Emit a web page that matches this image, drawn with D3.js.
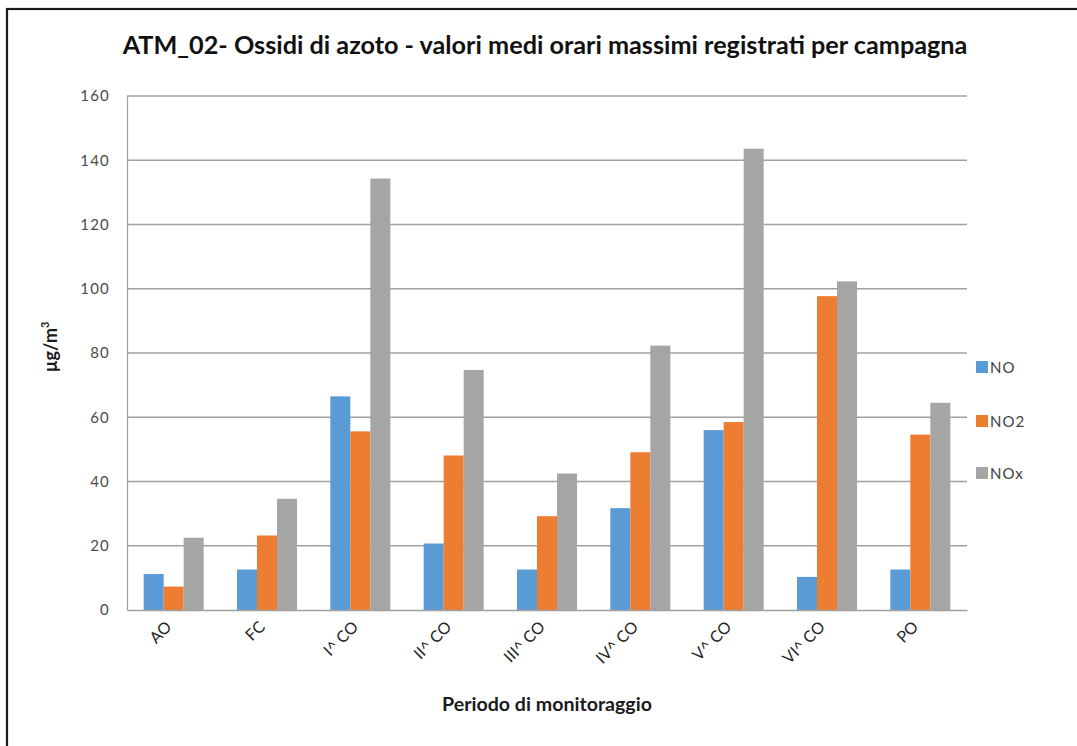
<!DOCTYPE html>
<html><head><meta charset="utf-8">
<script src="https://cdn.jsdelivr.net/npm/d3@7"></script>
<style>
html,body{margin:0;padding:0;background:#fff;}
svg{display:block;}
text{font-family:Lato,"Open Sans",sans-serif;}
</style></head>
<body>
<svg id="chart" width="1077" height="746"></svg>
<script>
const categories = ["AO","FC","I^ CO","II^ CO","III^ CO","IV^ CO","V^ CO","VI^ CO","PO"];
const seriesNames = ["NO","NO2","NOx"];
const valuesNO  = [11.2, 12.6, 66.5, 20.7, 12.6, 31.7, 56.0, 10.3, 12.6];
const valuesNO2 = [7.3, 23.2, 55.6, 48.1, 29.2, 49.1, 58.5, 97.7, 54.6];
const valuesNOx = [22.5, 34.6, 134.3, 74.7, 42.5, 82.3, 143.6, 102.3, 64.5];
const yTicks = [0,20,40,60,80,100,120,140,160];
const colors = ["#5B9BD5","#ED7D31","#A5A5A5"];
const titleText = "ATM_02- Ossidi di azoto - valori medi orari massimi registrati per campagna";
const xTitleText = "Periodo di monitoraggio";

const series = [valuesNO, valuesNO2, valuesNOx];
const svg = d3.select("#chart");

// frame
svg.append("rect").attr("x",7).attr("y",9).attr("width",1100).attr("height",760)
  .attr("fill","#fff").attr("stroke","#1a1a1a").attr("stroke-width",2.2);

const pLeft = 127, pRight = 967, pTop = 96, pBottom = 610;
const x0 = d3.scaleBand().domain(categories).range([pLeft,pRight]).paddingInner(0.357).paddingOuter(0.1785);
const x1 = d3.scaleBand().domain(seriesNames).range([0, x0.bandwidth()]);
const y = d3.scaleLinear().domain([0,160]).range([pBottom, pTop]);

// gridlines
svg.append("g").selectAll("line").data(yTicks.filter(d=>d>0)).join("line")
  .attr("x1",pLeft).attr("x2",pRight)
  .attr("y1",d=>y(d)).attr("y2",d=>y(d))
  .attr("stroke","#a0a0a0").attr("stroke-width",1.3);

// y axis
const yAxis = d3.axisLeft(y).tickValues(yTicks).tickSize(0).tickPadding(17);
const gy = svg.append("g").attr("transform",`translate(${pLeft},0)`).call(yAxis);
gy.select(".domain").attr("stroke","#a0a0a0").attr("stroke-width",1.3);
gy.selectAll("text").attr("font-size",15).attr("fill","#4a4a4a").attr("letter-spacing","1.2px")
  .style("font-family","Lato, sans-serif");

// bars
const groups = svg.append("g").selectAll("g").data(categories).join("g")
  .attr("transform",d=>`translate(${x0(d)},0)`);
groups.selectAll("rect").data((c,i)=>seriesNames.map((s,j)=>({s, v:series[j][i], j})))
  .join("rect")
  .attr("x",d=>x1(d.s)).attr("width",x1.bandwidth())
  .attr("y",d=>y(d.v)).attr("height",d=>pBottom - y(d.v))
  .attr("fill",d=>colors[d.j]);

// x axis
const xAxis = d3.axisBottom(x0).tickSize(0).tickPadding(0);
const gx = svg.append("g").attr("transform",`translate(0,${pBottom})`).call(xAxis);
gx.select(".domain").attr("stroke","#a0a0a0").attr("stroke-width",1.5);
gx.selectAll(".tick text")
  .attr("font-size",16).attr("fill","#262626").attr("text-anchor","end")
  .attr("dy","0.35em").attr("y",0)
  .attr("transform","translate(-5,14) rotate(-45)")
  .style("font-family","Lato, sans-serif");

function fit(sel, w){
  const n = sel.node(); const fs = parseFloat(sel.attr("font-size"));
  const len = n.getComputedTextLength();
  sel.attr("font-size", fs * w / len);
}

// title
const t = svg.append("text").attr("x",545).attr("y",54).attr("text-anchor","middle")
  .attr("font-weight","bold").attr("font-size",20).attr("fill","#111").text(titleText);
fit(t, 845);

// x title
const xt = svg.append("text").attr("x",(pLeft+pRight)/2).attr("y",711).attr("text-anchor","middle")
  .attr("font-weight","bold").attr("font-size",16).attr("fill","#1a1a1a").text(xTitleText);
fit(xt, 210);

// y title
const yt = svg.append("text").attr("transform","translate(57,347) rotate(-90)").attr("text-anchor","middle")
  .attr("font-weight","bold").attr("font-size",18).attr("fill","#1a1a1a");
yt.append("tspan").text("µg/m");
yt.append("tspan").attr("font-size",11).attr("dy",-8).text("3");

// legend
const legY = [367, 421, 473];
const lg = svg.append("g").selectAll("g").data(seriesNames).join("g")
  .attr("transform",(d,i)=>`translate(976,${legY[i]})`);
lg.append("rect").attr("x",0).attr("y",-6).attr("width",12).attr("height",12).attr("fill",(d,i)=>colors[i]);
lg.append("text").attr("x",14).attr("y",1).attr("dy","0.36em").attr("font-size",15)
  .attr("fill","#404040").attr("letter-spacing","1px").text(d=>d);
</script>
</body></html>
